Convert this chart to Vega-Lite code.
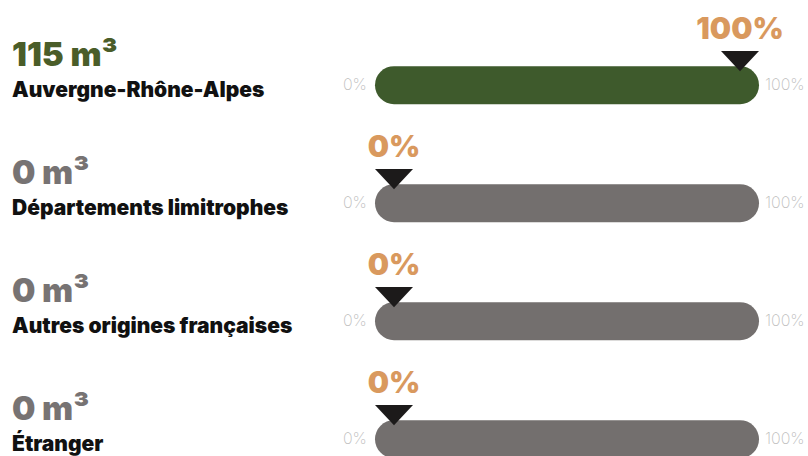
{
  "$schema": "https://vega.github.io/schema/vega-lite/v6.json",
  "width": 808,
  "height": 456,
  "autosize": {"type": "none"},
  "padding": 0,
  "background": "white",
  "config": {"view": {"stroke": null}},
  "data": {
    "values": [
      {"region": "Auvergne-Rhône-Alpes", "volume": 115, "share": 1},
      {"region": "Départements limitrophes", "volume": 0, "share": 0},
      {"region": "Autres origines françaises", "volume": 0, "share": 0},
      {"region": "Étranger", "volume": 0, "share": 0}
    ]
  },
  "transform": [
    {"calculate": "datum.volume + ' m³'", "as": "volumeLabel"}
  ],
  "encoding": {
    "y": {
      "field": "region",
      "type": "ordinal",
      "sort": null,
      "axis": null,
      "scale": {"type": "point", "padding": 0.432, "align": 0.835}
    }
  },
  "layer": [
    {
      "mark": {"type": "rule", "strokeWidth": 38, "strokeCap": "round"},
      "encoding": {
        "x": {"datum": 0, "type": "quantitative", "axis": null, "scale": {"domain": [-1.1387, 1.1965], "nice": false, "zero": false}},
        "x2": {"datum": 1},
        "color": {"condition": {"test": "datum.share > 0", "value": "#3e5a2c"}, "value": "#736f6e"}
      }
    },
    {
      "mark": {"type": "text", "text": "0%", "font": "Inter", "fontWeight": 200, "fontSize": 16, "color": "#bdbdbd", "align": "center", "baseline": "middle"},
      "encoding": {"x": {"datum": -0.113, "type": "quantitative"}}
    },
    {
      "mark": {"type": "text", "text": "100%", "font": "Inter", "fontWeight": 200, "fontSize": 16, "color": "#bdbdbd", "align": "left", "baseline": "middle"},
      "encoding": {"x": {"datum": 1.072, "type": "quantitative"}}
    },
    {
      "mark": {"type": "point", "shape": "M-1,-0.53L1,-0.53L0,0.53Z", "size": 1444, "filled": true, "opacity": 1, "color": "#1c1a1a", "yOffset": -24},
      "encoding": {"x": {"field": "share", "type": "quantitative"}}
    },
    {
      "mark": {"type": "text", "font": "Inter", "fontWeight": 900, "fontSize": 30, "color": "#d9995e", "align": "center", "baseline": "middle", "dy": -55},
      "encoding": {
        "x": {"field": "share", "type": "quantitative"},
        "text": {"field": "share", "type": "quantitative", "format": ".0%"}
      }
    },
    {
      "mark": {"type": "text", "font": "Inter", "fontWeight": 900, "fontSize": 33, "align": "left", "baseline": "middle", "dy": -29},
      "encoding": {
        "x": {"datum": -1.104, "type": "quantitative"},
        "text": {"field": "volumeLabel"},
        "color": {"condition": {"test": "datum.share > 0", "value": "#4a5d29"}, "value": "#777373"}
      }
    },
    {
      "mark": {"type": "text", "font": "Inter", "fontWeight": 900, "fontSize": 21, "color": "#111111", "align": "left", "baseline": "middle", "dy": 6},
      "encoding": {
        "x": {"datum": -1.104, "type": "quantitative"},
        "text": {"field": "region"}
      }
    }
  ]
}
